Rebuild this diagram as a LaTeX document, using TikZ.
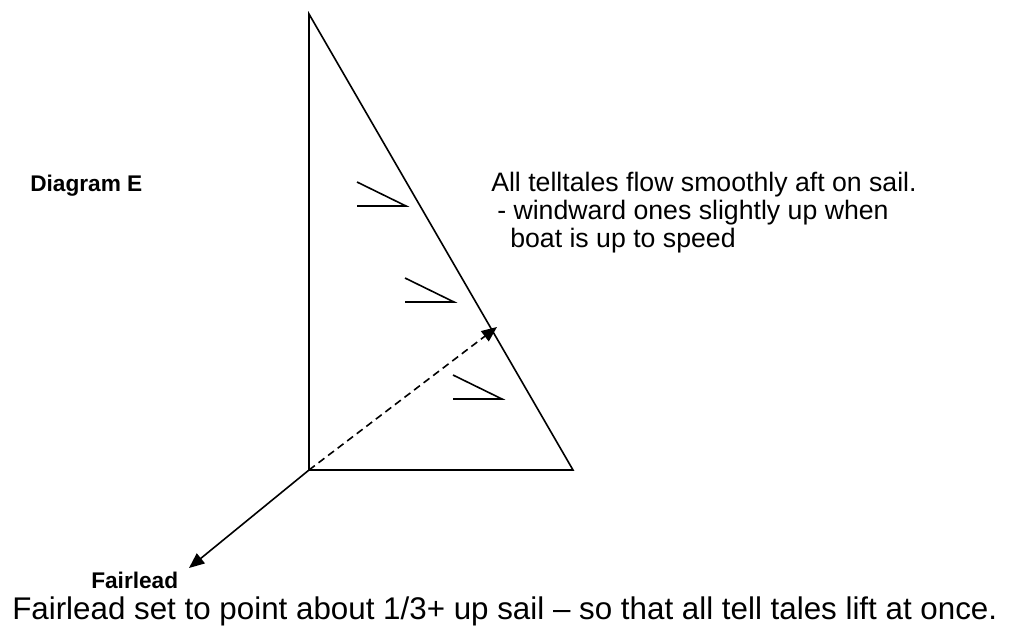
\documentclass[tikz,border=0pt]{standalone}
\usepackage{fontspec}
\setmainfont{Liberation Sans}
\usetikzlibrary{arrows.meta}

\begin{document}
\begin{tikzpicture}[x=0.75pt,y=-0.75pt]

\tikzset{
  edge/.style    = {line width=1.2pt},
  flow/.style    = {edge, -{Triangle[length=11.5pt,width=9.5pt]}},
  sheet/.style   = {flow, dash pattern=on 5.5pt off 3.5pt},
  tale/.style    = {line width=1.2pt},
  note/.style    = {anchor=base west, inner sep=0pt, font=\fontsize{20}{24}\selectfont},
  tag/.style     = {anchor=base west, inner sep=0pt, font=\bfseries\fontsize{17}{20}\selectfont},
  caption/.style = {anchor=base west, inner sep=0pt, font=\fontsize{23.5}{28}\selectfont},
}

\useasboundingbox (0,0) rectangle (1019,633);

% sail corners
\coordinate (head) at (309,14);
\coordinate (tack) at (309,470);
\coordinate (clew) at (573,470);
\coordinate (aim) at (497,327);
\coordinate (lead) at (189,568);

\draw[edge] (head) -- (tack) -- (clew) -- cycle;

% telltales
\foreach \x/\y in {406/206, 454/302, 502/399}
  \draw[tale] (\x-49,\y-24) -- (\x,\y) -- (\x-49,\y);

\draw[sheet] (tack) -- (aim);
\draw[flow] (tack) -- (lead);

\node[tag] (title) at (30,191) {Diagram E};
\node[tag] (fair) at (91,588) {Fairlead};
\node[note] (n1) at (491,191) {All telltales flow smoothly aft on sail.};
\node[note] (n2) at (497,219) {- windward ones slightly up when};
\node[note] (n3) at (510,247) {boat is up to speed};
\node[caption] (cap) at (12,619) {Fairlead set to point about 1/3+ up sail -- so that all tell tales lift at once.};
\end{tikzpicture}
\end{document}
